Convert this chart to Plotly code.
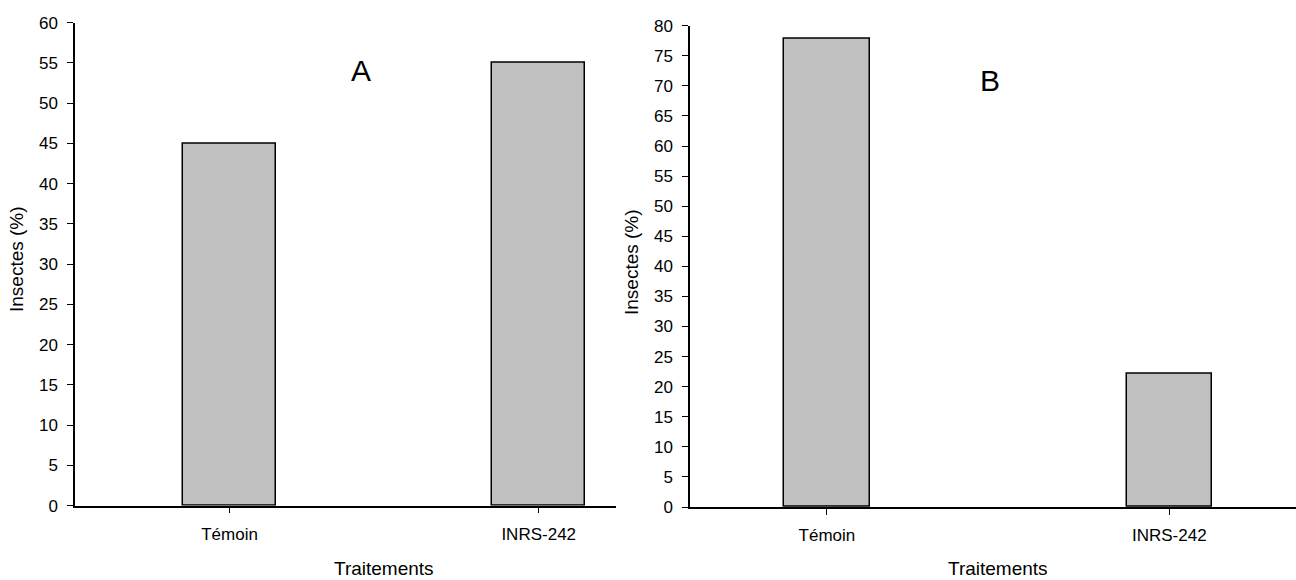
import plotly.graph_objects as go

# Treatments and percentage of insects per panel
categories = ["Témoin", "INRS-242"]
values_a = [45, 55]
values_b = [77.78, 22.22]
y_ticks_a = list(range(0, 61, 5))
y_ticks_b = list(range(0, 81, 5))

W, H = 1296, 580
FONT = "Liberation Sans, Arial, sans-serif"
BAR_FILL = "#c0c0c0"


def px_x(p):
    return p / W


def px_y(p):
    return 1 - p / H


fig = go.Figure()

fig.add_trace(go.Bar(
    x=[0, 1], y=values_a, width=0.30,
    marker=dict(color=BAR_FILL, line=dict(color="black", width=1.5)),
    xaxis="x", yaxis="y", showlegend=False, hoverinfo="skip",
))
fig.add_trace(go.Bar(
    x=[0, 1], y=values_b, width=0.25,
    marker=dict(color=BAR_FILL, line=dict(color="black", width=1.5)),
    xaxis="x2", yaxis="y2", showlegend=False, hoverinfo="skip",
))

axis_common = dict(
    showline=True, linecolor="black", linewidth=1.5,
    ticks="outside", ticklen=6, tickwidth=1, tickcolor="black",
    showgrid=False, zeroline=False, automargin=False,
    tickfont=dict(family=FONT, size=17, color="black"),
)

fig.update_layout(
    width=W, height=H,
    margin=dict(l=0, r=0, t=0, b=0, autoexpand=False),
    paper_bgcolor="white", plot_bgcolor="white",
    bargap=0,
    xaxis=dict(
        domain=[px_x(75), px_x(616)], range=[-0.50, 1.25],
        tickvals=[0, 1], ticktext=categories, ticklabelstandoff=6,
        anchor="y", **axis_common,
    ),
    yaxis=dict(
        domain=[px_y(505.7), px_y(22.7)], range=[0, 60],
        tickvals=y_ticks_a, ticklabelstandoff=6,
        anchor="x", **axis_common,
    ),
    xaxis2=dict(
        domain=[px_x(690), 1.0], range=[-0.40, 1.37],
        tickvals=[0, 1], ticktext=categories, ticklabelstandoff=6,
        anchor="y2", **axis_common,
    ),
    yaxis2=dict(
        domain=[px_y(507), px_y(25.7)], range=[0, 80],
        tickvals=y_ticks_b, ticklabelstandoff=6,
        anchor="x2", **axis_common,
    ),
)

title_font = dict(family=FONT, size=19, color="black")
annotations = [
    dict(text="Insectes (%)", x=px_x(16), y=px_y(259), textangle=-90),
    dict(text="Insectes (%)", x=px_x(631), y=px_y(262), textangle=-90),
    dict(text="Traitements", x=px_x(384), y=px_y(568)),
    dict(text="Traitements", x=px_x(998), y=px_y(568)),
]
for a in annotations:
    fig.add_annotation(xref="paper", yref="paper", xanchor="center",
                       yanchor="middle", showarrow=False, font=title_font, **a)

panel_font = dict(family=FONT, size=30, color="black")
fig.add_annotation(text="A", xref="paper", yref="paper", x=px_x(361), y=px_y(71),
                   xanchor="center", yanchor="middle", showarrow=False, font=panel_font)
fig.add_annotation(text="B", xref="paper", yref="paper", x=px_x(990), y=px_y(80),
                   xanchor="center", yanchor="middle", showarrow=False, font=panel_font)

fig.write_html("out.html")
